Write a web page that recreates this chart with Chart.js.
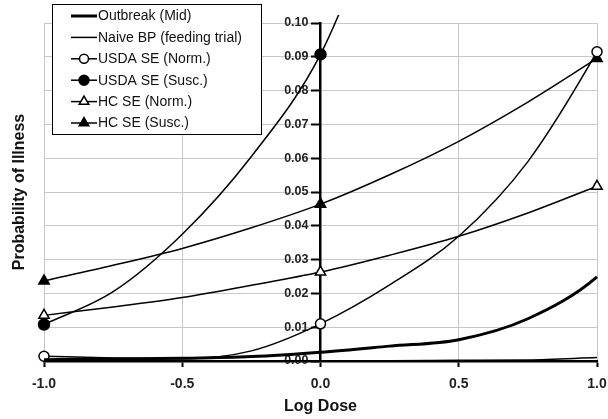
<!DOCTYPE html>
<html>
<head>
<meta charset="utf-8">
<script src="https://cdn.jsdelivr.net/npm/chart.js@4.4.1/dist/chart.umd.min.js"></script>
<style>
  body { margin: 0; background: #fff; }
  #wrap { width: 608px; height: 419px; }
</style>
</head>
<body>
<div id="wrap"><canvas id="chart" width="608" height="419"></canvas></div>
<script>
// values
const logDose     = [-1.0, -0.75, -0.5, -0.25, 0.0, 0.25, 0.5, 0.75, 1.0, 1.1];
const outbreakMid = [0.0004, 0.0006, 0.0008, 0.0013, 0.0026, 0.0044, 0.0063, 0.0125, 0.0249, 0.034];
const naiveBP     = [0.0000, 0.0000, 0.0000, 0.0000, 0.0001, 0.0001, 0.0002, 0.0003, 0.0010, null];
const usdaNorm    = [0.0014, 0.0009, 0.0007, 0.0030, 0.0110, 0.0225, 0.0369, 0.0590, 0.0915, 0.107];
const usdaSusc    = [0.0108, 0.0205, 0.0375, 0.0605, 0.0907, 0.140, null, null, null, null];
const hcNorm      = [0.0135, 0.0160, 0.0188, 0.0224, 0.0263, 0.0313, 0.0369, 0.0438, 0.0517, null];
const hcSusc      = [0.0237, 0.0283, 0.0333, 0.0394, 0.0464, 0.0551, 0.0650, 0.0766, 0.0895, null];

const xTicks = [-1.0, -0.5, 0.0, 0.5, 1.0];
const yTicks = [0, 0.01, 0.02, 0.03, 0.04, 0.05, 0.06, 0.07, 0.08, 0.09, 0.10];

//////////////////////////////////////////////////////////////////////////////

function pts(ys) {
    return logDose.map((x, i) => ({x: x, y: ys[i]}));
}

// markers only on the whole log doses
function markerAt(r) {
    return logDose.map(x => (x === -1 || x === 0 || x === 1) ? r : 0);
}

function series(label, ys, opts) {
    return Object.assign({
        label: label,
        data: pts(ys),
        borderColor: '#000',
        backgroundColor: '#000',
        borderWidth: 1.5,
        pointRadius: 0,
        pointHoverRadius: 0,
        pointBorderWidth: 1.5,
        pointBorderColor: '#000',
        cubicInterpolationMode: 'monotone',
        spanGaps: false,
        clip: {left: 10, top: 8, right: 12, bottom: 4}
    }, opts);
}

//////////////////////////////////////////////////////////////////////////////

// boxed legend sitting over the top-left of the plot
const boxLegend = {
    id: 'boxLegend',
    afterDraw(chart) {
        const ctx = chart.ctx;
        const left = 52.5, top = 4.5, w = 209, h = 130;
        const rowH = 21.4;
        ctx.save();
        ctx.fillStyle = '#fff';
        ctx.fillRect(left, top, w, h);
        ctx.strokeStyle = '#000';
        ctx.lineWidth = 1;
        ctx.strokeRect(left, top, w, h);
        ctx.font = '14px "Liberation Sans", Arial, sans-serif';
        ctx.textBaseline = 'middle';
        chart.data.datasets.forEach((ds, i) => {
            const y = 16 + i * rowH;
            ctx.strokeStyle = '#000';
            ctx.lineWidth = ds.borderWidth;
            ctx.beginPath();
            ctx.moveTo(71, y);
            ctx.lineTo(97, y);
            ctx.stroke();
            if (ds.legendRadius) {
                ctx.fillStyle = ds.pointBackgroundColor;
                ctx.strokeStyle = '#000';
                ctx.lineWidth = 1.5;
                Chart.helpers.drawPoint(ctx, {
                    pointStyle: ds.pointStyle,
                    radius: ds.legendRadius,
                    rotation: 0,
                    borderWidth: 1.5
                }, 84, y);
            }
            ctx.fillStyle = '#111';
            ctx.fillText(ds.label, 98, y + 0.5);
        });
        ctx.restore();
    }
};

// the y axis sits at x = 0, push its labels left of the tick marks
const shiftYLabels = {
    id: 'shiftYLabels',
    beforeDraw(chart) {
        chart.scales.y.getLabelItems().forEach(it => {
            if (!it._moved) {
                it.options.translation[0] -= 12;
                it._moved = true;
            }
        });
    }
};

//////////////////////////////////////////////////////////////////////////////

const data = {
    datasets: [
        series('Outbreak (Mid)', outbreakMid, {borderWidth: 3}),
        series('Naive BP (feeding trial)', naiveBP, {}),
        series('USDA SE (Norm.)', usdaNorm, {
            pointStyle: 'circle', pointRadius: markerAt(5), pointBackgroundColor: '#fff', legendRadius: 4.5
        }),
        series('USDA SE (Susc.)', usdaSusc, {
            pointStyle: 'circle', pointRadius: markerAt(5.5), pointBackgroundColor: '#000', legendRadius: 5
        }),
        series('HC SE (Norm.)', hcNorm, {
            pointStyle: 'triangle', pointRadius: markerAt(6), pointBackgroundColor: '#fff', legendRadius: 5.5
        }),
        series('HC SE (Susc.)', hcSusc, {
            pointStyle: 'triangle', pointRadius: markerAt(6), pointBackgroundColor: '#000', legendRadius: 5.5
        })
    ]
};

const fam = '"Liberation Sans", Arial, sans-serif';
const xTickFont = {family: fam, size: 14, weight: 'bold'};
const yTickFont = {family: fam, size: 12.5, weight: 'bold'};
const titleFont = {family: fam, size: 16, weight: 'bold'};

new Chart(document.getElementById('chart'), {
    type: 'line',
    data: data,
    options: {
        responsive: false,
        animation: false,
        events: [],
        layout: {padding: {left: 10, top: 23, right: 11, bottom: 3}},
        plugins: {legend: {display: false}, tooltip: {enabled: false}},
        scales: {
            x: {
                type: 'linear',
                min: -1, max: 1,
                afterBuildTicks: axis => { axis.ticks = xTicks.map(v => ({value: v})); },
                afterFit: axis => {
                    axis.height = 55;
                    axis.paddingLeft = 0;
                    axis.paddingRight = 0;
                },
                ticks: {font: xTickFont, color: '#222', padding: 9, maxRotation: 0,
                        callback: v => v.toFixed(1)},
                grid: {color: '#c8c8c8', lineWidth: 1, tickLength: 6, tickColor: '#000', tickWidth: 2},
                border: {display: true, color: '#000', width: 2.5},
                title: {display: true, text: 'Log Dose', font: titleFont, color: '#111',
                        padding: {top: 0, bottom: 0}}
            },
            y: {
                type: 'linear',
                position: {x: 0},
                min: 0, max: 0.1,
                afterBuildTicks: axis => { axis.ticks = yTicks.map(v => ({value: v})); },
                ticks: {font: yTickFont, color: '#222', padding: 3, callback: v => v.toFixed(2)},
                grid: {color: '#c8c8c8', lineWidth: 1, tickLength: 8, tickColor: '#000', tickWidth: 2},
                border: {display: true, color: '#000', width: 2.5}
            },
            yt: {
                type: 'linear',
                position: 'left',
                min: 0, max: 0.1,
                afterFit: axis => { axis.width = 34; },
                ticks: {display: false},
                grid: {display: false},
                border: {display: false},
                title: {display: true, text: 'Probability of Illness', font: titleFont, color: '#111',
                        padding: {top: 0, bottom: 0}}
            }
        }
    },
    plugins: [boxLegend, shiftYLabels]
});
</script>
</body>
</html>
